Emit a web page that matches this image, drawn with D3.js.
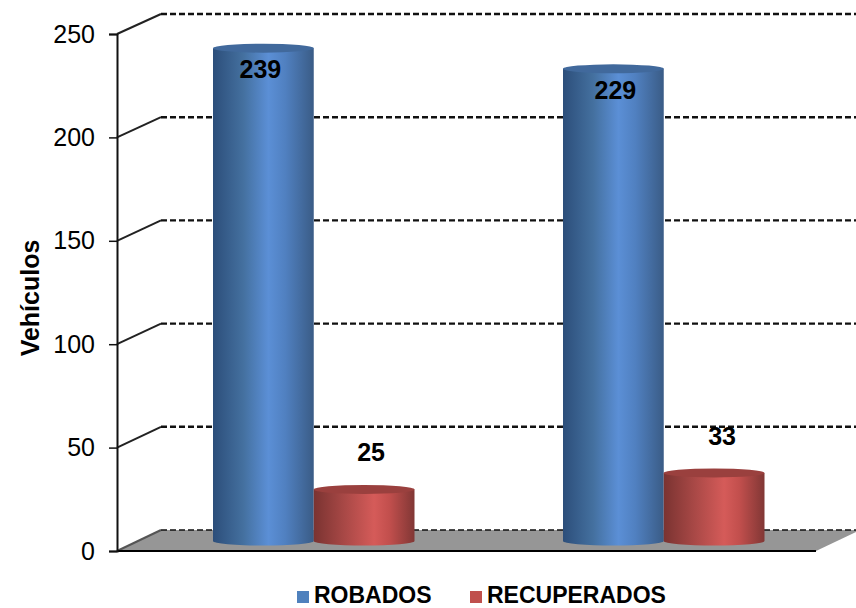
<!DOCTYPE html>
<html>
<head>
<meta charset="utf-8">
<script src="https://cdn.jsdelivr.net/npm/d3@7/dist/d3.min.js"></script>
<style>
    html, body { margin: 0; padding: 0; background: #fff; overflow: hidden; }
    text { font-family: "Liberation Sans", Arial, sans-serif; fill: #000; }
</style>
</head>
<body>
<div id="chart"></div>
<script>
// Values
var groups = ["A", "B"];
var seriesNames = ["ROBADOS", "RECUPERADOS"];
var robados = [239, 229];
var recuperados = [25, 33];
var yTicks = [0, 50, 100, 150, 200, 250];
var yTitle = "Vehículos";

var width = 856, height = 608;

var svg = d3.select("#chart")
    .append("svg")
    .attr("width", width)
    .attr("height", height)
    .style("display", "block");

// Front face of the box, back wall and the plane the cylinders stand on
var yFront = d3.scaleLinear().domain([0, 250]).range([551, 34]);
var yBack = d3.scaleLinear().domain([0, 250]).range([530, 14]);
var yBar = d3.scaleLinear().domain([0, 250]).range([541, 25.5]);

var frontLeft = 117, backLeft = 161, frontRight = 816, depth = backLeft - frontLeft;

var x0 = d3.scaleBand().domain(groups).range([139, 839]);
var x1 = d3.scaleBand().domain(seriesNames).range([74, 275.5]);

// Gradients for the cylinders
var defs = svg.append("defs");

function addGradient(id, stops) {
    defs.append("linearGradient")
        .attr("id", id)
        .selectAll("stop")
        .data(stops)
        .join("stop")
        .attr("offset", d => d[0])
        .attr("stop-color", d => d[1]);
}

addGradient("grad-ROBADOS", [[0, "#2c4e7a"], [0.3, "#44709f"], [0.55, "#5b8fd6"], [0.72, "#5080c0"], [1, "#3a5c86"]]);
addGradient("grad-RECUPERADOS", [[0, "#7a3331"], [0.3, "#a84846"], [0.6, "#d55b59"], [0.75, "#c24f4d"], [1, "#813735"]]);

var capColor = {ROBADOS: "#41699c", RECUPERADOS: "#9a403e"};
var legendColor = {ROBADOS: "#4f81bd", RECUPERADOS: "#c0504d"};

// Floor
svg.append("path")
    .attr("d", d3.line()([
        [frontLeft, yFront(0)],
        [backLeft, yBack(0)],
        [frontRight + depth, yBack(0)],
        [frontRight, yFront(0)]
    ]) + "Z")
    .attr("fill", "#969696");

// Gridlines: diagonal on the side wall, dashed on the back wall
svg.selectAll(".side-line")
    .data(yTicks)
    .join("line")
    .attr("class", "side-line")
    .attr("x1", frontLeft)
    .attr("x2", backLeft)
    .attr("y1", d => yFront(d))
    .attr("y2", d => yBack(d))
    .attr("stroke", d => d === 0 ? "#555" : "#222")
    .attr("stroke-width", 2);

svg.selectAll(".back-line")
    .data(yTicks)
    .join("line")
    .attr("class", "back-line")
    .attr("x1", backLeft)
    .attr("x2", width)
    .attr("y1", d => yBack(d))
    .attr("y2", d => yBack(d))
    .attr("stroke", "#111")
    .attr("stroke-width", d => d === 0 ? 1.5 : 2.4)
    .attr("stroke-dasharray", "6 3");

// Front edge of the floor
svg.append("line")
    .attr("x1", frontLeft)
    .attr("x2", frontRight)
    .attr("y1", yFront(0))
    .attr("y2", yFront(0))
    .attr("stroke", "#000")
    .attr("stroke-width", 2);

// Y axis
var yAxis = svg.append("g")
    .attr("transform", `translate(${frontLeft},0)`)
    .call(d3.axisLeft(yFront).tickValues(yTicks).tickSize(8).tickPadding(14).tickFormat(d3.format("d")));

yAxis.select(".domain").attr("stroke", "#111").attr("stroke-width", 2);
yAxis.selectAll(".tick line").attr("stroke", "#111").attr("stroke-width", 1.5);
yAxis.selectAll("text")
    .style("font-family", '"Liberation Sans", Arial, sans-serif')
    .style("font-size", "25px");

svg.append("text")
    .attr("transform", "translate(39,298) rotate(-90)")
    .attr("text-anchor", "middle")
    .attr("font-size", 25)
    .attr("font-weight", "bold")
    .text(yTitle);

// Cylinders
var bars = [];
groups.forEach(function (g, i) {
    bars.push({group: g, series: "ROBADOS", value: robados[i]});
    bars.push({group: g, series: "RECUPERADOS", value: recuperados[i]});
});

var ry = 4.5;

function barLeft(d) { return x0(d.group) + x1(d.series); }

function cylinderBody(d) {
    var rx = x1.bandwidth() / 2;
    var left = barLeft(d), right = left + x1.bandwidth();
    return `M${left},${yBar(d.value)}L${left},${yBar(0)}` +
        `A${rx},${ry} 0 0 0 ${right},${yBar(0)}L${right},${yBar(d.value)}Z`;
}

var barGroup = svg.selectAll(".bar")
    .data(bars)
    .join("g")
    .attr("class", "bar");

barGroup.append("path")
    .attr("d", cylinderBody)
    .attr("fill", d => `url(#grad-${d.series})`);

barGroup.append("ellipse")
    .attr("cx", d => barLeft(d) + x1.bandwidth() / 2)
    .attr("cy", d => yBar(d.value))
    .attr("rx", x1.bandwidth() / 2)
    .attr("ry", ry)
    .attr("fill", d => capColor[d.series]);

// Value labels: tall bars inside the top, short bars above it
var labelShift = [-3, 7, 2, 8];

svg.selectAll(".value-label")
    .data(bars)
    .join("text")
    .attr("class", "value-label")
    .attr("x", (d, i) => barLeft(d) + x1.bandwidth() / 2 + labelShift[i])
    .attr("y", d => yBar(d.value) + (d.series === "ROBADOS" ? 30 : -28))
    .attr("text-anchor", "middle")
    .attr("font-size", 25)
    .attr("font-weight", "bold")
    .text(d => d.value);

// Legend
var legendX = {ROBADOS: 297, RECUPERADOS: 470};

var legend = svg.selectAll(".legend")
    .data(seriesNames)
    .join("g")
    .attr("class", "legend")
    .attr("transform", d => `translate(${legendX[d]},591)`);

legend.append("rect")
    .attr("width", 12)
    .attr("height", 12)
    .attr("fill", d => legendColor[d]);

legend.append("text")
    .attr("x", 17)
    .attr("y", 12)
    .attr("font-size", 23)
    .attr("font-weight", "bold")
    .text(d => d);
</script>
</body>
</html>
